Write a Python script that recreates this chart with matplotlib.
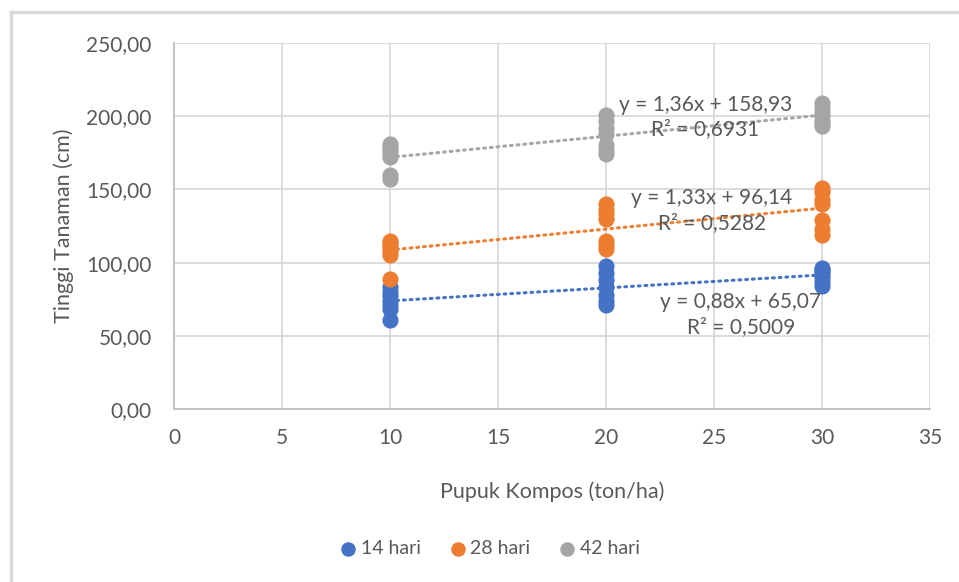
import numpy as np
import matplotlib.pyplot as plt
from matplotlib.lines import Line2D
from matplotlib.ticker import FuncFormatter

plt.rcParams['font.family'] = ['Lato', 'DejaVu Sans']

# data
dosis = [10, 20, 30]
hari_14 = [[83, 80, 77, 74, 71, 68, 61],
           [98, 93, 88, 83, 78, 74, 71],
           [96, 95, 94, 92, 90, 87, 84]]
hari_28 = [[115, 114, 112, 110, 108, 105, 89],
           [140, 136, 133, 130, 115, 112, 109],
           [151, 148, 143, 140, 129, 123, 119]]
hari_42 = [[181, 179, 177, 175, 172, 160, 157],
           [201, 197, 192, 188, 180, 177, 174],
           [209, 206, 203, 200, 197, 195, 193]]
labels = ['14 hari', '28 hari', '42 hari']
colors = ['#4472C4', '#ED7D31', '#A5A5A5']
eq_text = ['y = 0,88x + 65,07\nR² = 0,5009',
           'y = 1,33x + 96,14\nR² = 0,5282',
           'y = 1,36x + 158,93\nR² = 0,6931']
eq_pos = [(26.25, 64.5), (24.9, 135.5), (24.6, 199.5)]

fig = plt.figure(figsize=(9.59, 5.82), dpi=100)
ax = fig.add_axes([174 / 959, 1 - 409 / 582, (930 - 174) / 959, (409 - 43) / 582])

# figure frame (only left and top visible in the crop)
fig.add_artist(Line2D([11 / 959, 11 / 959], [0, 1 - 12 / 582], color='#D9D9D9', lw=2.5))
fig.add_artist(Line2D([11 / 959, 1], [1 - 12 / 582, 1 - 12 / 582], color='#D9D9D9', lw=2.5))

for series, lab, col, txt, pos in zip([hari_14, hari_28, hari_42], labels, colors, eq_text, eq_pos):
    xs = np.repeat(dosis, [len(s) for s in series])
    ys = np.concatenate(series)
    ax.scatter(xs, ys, s=135, color=col, label=lab, zorder=3, linewidths=0)
    k, b = np.polyfit(xs, ys, 1)
    xl = np.array([10, 30])
    ax.plot(xl, k * xl + b, color=col, lw=2.2, linestyle=(0, (0.6, 1.6)),
            dash_capstyle='round', zorder=4)
    ax.text(pos[0], pos[1], txt, ha='center', va='center', fontsize=15,
            color='#595959', linespacing=1.3, zorder=5)

ax.set_xlim(0, 35)
ax.set_ylim(0, 250)
ax.set_xticks(range(0, 36, 5))
ax.set_yticks(range(0, 251, 50))
ax.yaxis.set_major_formatter(FuncFormatter(lambda v, p: f'{v:.2f}'.replace('.', ',')))
ax.grid(True, color='#D9D9D9', lw=1.3)
ax.set_axisbelow(True)
for s in ['top', 'right']:
    ax.spines[s].set_visible(False)
for s in ['left', 'bottom']:
    ax.spines[s].set_color('#BFBFBF')
    ax.spines[s].set_linewidth(1.3)
ax.tick_params(length=0, labelsize=15, labelcolor='#595959')
ax.tick_params(axis='x', pad=14)
ax.tick_params(axis='y', pad=16)
ax.set_xlabel('Pupuk Kompos (ton/ha)', fontsize=15.5, color='#595959')
ax.set_ylabel('Tinggi Tanaman (cm)', fontsize=15.5, color='#595959')
ax.xaxis.set_label_coords(0.5, -(481 - 409) / 366)
ax.yaxis.set_label_coords(-(174 - 74) / 756, 0.5)

ax.legend(loc='center', bbox_to_anchor=(490 / 959, 1 - 549 / 582), bbox_transform=fig.transFigure,
          ncol=3, frameon=False, fontsize=14, labelcolor='#595959', markerscale=0.9,
          handlelength=0.8, handletextpad=0.25, columnspacing=1.5)

fig.savefig('out.png', dpi=100)
